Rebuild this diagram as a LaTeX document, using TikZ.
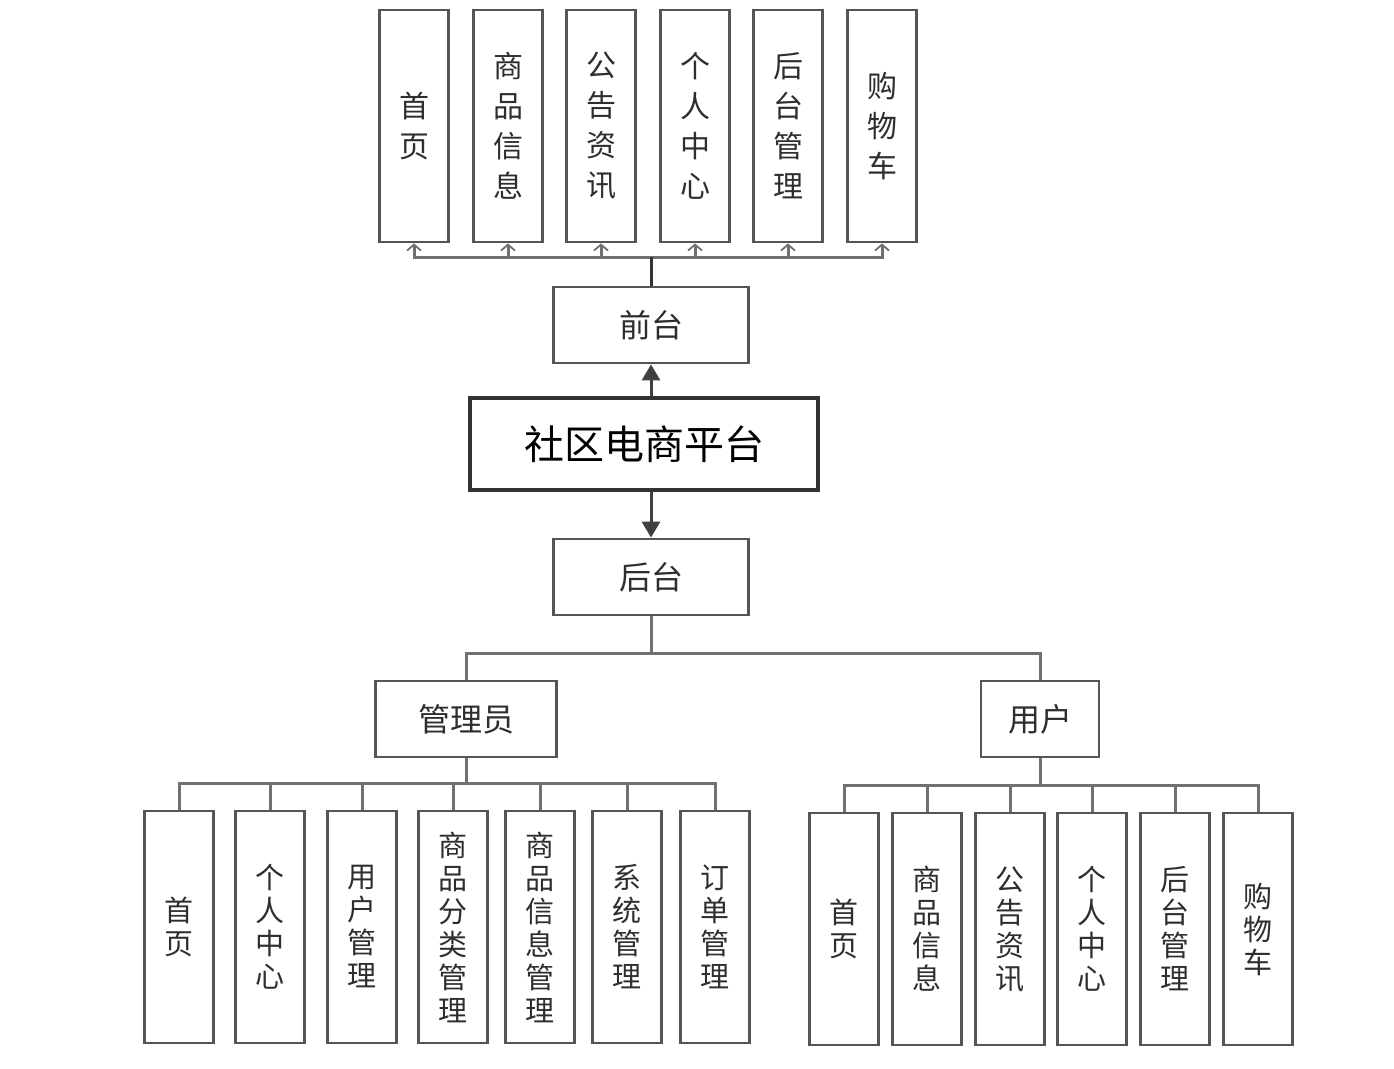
\documentclass[tikz,border=0pt]{standalone}
\usepackage{fontspec}
\newfontfamily\cjk{Noto Sans CJK SC}
\usetikzlibrary{arrows.meta}
\definecolor{boxline}{HTML}{555555}
\definecolor{conn}{HTML}{707070}
\definecolor{txt}{HTML}{2E2E2E}
\tikzset{
  tallbox/.style={draw=boxline, line width=2.8pt, fill=white, minimum width=69pt, minimum height=232pt, inner sep=0pt, align=center, text=txt, font=\cjk\fontsize{30}{40}\selectfont},
  lowbox/.style={tallbox, font=\cjk\fontsize{29}{33}\selectfont},
  midbox/.style={draw=boxline, line width=2.8pt, fill=white, minimum height=76pt, inner sep=0pt, text=txt, font=\cjk\fontsize{32}{36}\selectfont},
  mainbox/.style={draw=black!80, line width=3.2pt, fill=white, minimum width=348pt, minimum height=92pt, inner sep=0pt, text=black, font=\cjk\fontsize{40}{44}\selectfont},
  link/.style={draw=conn, line width=3pt},
  uplink/.style={link, -{Straight Barb[length=6pt,width=14pt,line width=1.8pt]}},
  bigarrow/.style={draw=black!75, line width=3pt, -{Triangle[length=16pt,width=18pt]}}
}
\begin{document}
\begin{tikzpicture}[x=1pt,y=-1pt]
\useasboundingbox[fill=white] (0,0) rectangle (1394,1068);

% top row
\node[tallbox] (t1) at (414,126) {首\\页};
\node[tallbox] (t2) at (508,126) {商\\品\\信\\息};
\node[tallbox] (t3) at (601,126) {公\\告\\资\\讯};
\node[tallbox] (t4) at (695,126) {个\\人\\中\\心};
\node[tallbox] (t5) at (788,126) {后\\台\\管\\理};
\node[tallbox] (t6) at (882,126) {购\\物\\车};

\node[midbox, minimum width=195pt] (qt) at (651,325) {前台};
\node[mainbox] (plat) at (644,444) {社区电商平台};
\node[midbox, minimum width=195pt] (ht) at (651,577) {后台};
\node[midbox, minimum width=181pt] (admin) at (466,719) {管理员};
\node[midbox, minimum width=118pt] (user) at (1040,719) {用户};

% admin children
\node[lowbox] (a1) at (179,927) {首\\页};
\node[lowbox] (a2) at (270,927) {个\\人\\中\\心};
\node[lowbox] (a3) at (362,927) {用\\户\\管\\理};
\node[lowbox] (a4) at (453,927) {商\\品\\分\\类\\管\\理};
\node[lowbox] (a5) at (540,927) {商\\品\\信\\息\\管\\理};
\node[lowbox] (a6) at (627,927) {系\\统\\管\\理};
\node[lowbox] (a7) at (715,927) {订\\单\\管\\理};

% user children
\node[lowbox] (u1) at (844,929) {首\\页};
\node[lowbox] (u2) at (927,929) {商\\品\\信\\息};
\node[lowbox] (u3) at (1010,929) {公\\告\\资\\讯};
\node[lowbox] (u4) at (1092,929) {个\\人\\中\\心};
\node[lowbox] (u5) at (1175,929) {后\\台\\管\\理};
\node[lowbox] (u6) at (1258,929) {购\\物\\车};

% front-end bus
\coordinate (topbus) at (651,257);
\foreach \n in {t1,t2,t3,t4,t5,t6}
  \draw[uplink] (topbus) -| (\n.south);
\draw[link, draw=black!80] (qt.north) -- (topbus);

% platform arrows
\draw[bigarrow] (qt.south |- plat.north) -- (qt.south);
\draw[bigarrow] (ht.north |- plat.south) -- (ht.north);

% back-end split
\draw[link] (ht.south) -- ++(0,37) -| (admin.north);
\draw[link] (ht.south) -- ++(0,37) -| (user.north);

% admin bus
\foreach \n in {a1,a2,a3,a4,a5,a6,a7}
  \draw[link] (admin.south) -- ++(0,25) -| (\n.north);
% user bus
\foreach \n in {u1,u2,u3,u4,u5,u6}
  \draw[link] (user.south) -- ++(0,27) -| (\n.north);
\end{tikzpicture}
\end{document}
